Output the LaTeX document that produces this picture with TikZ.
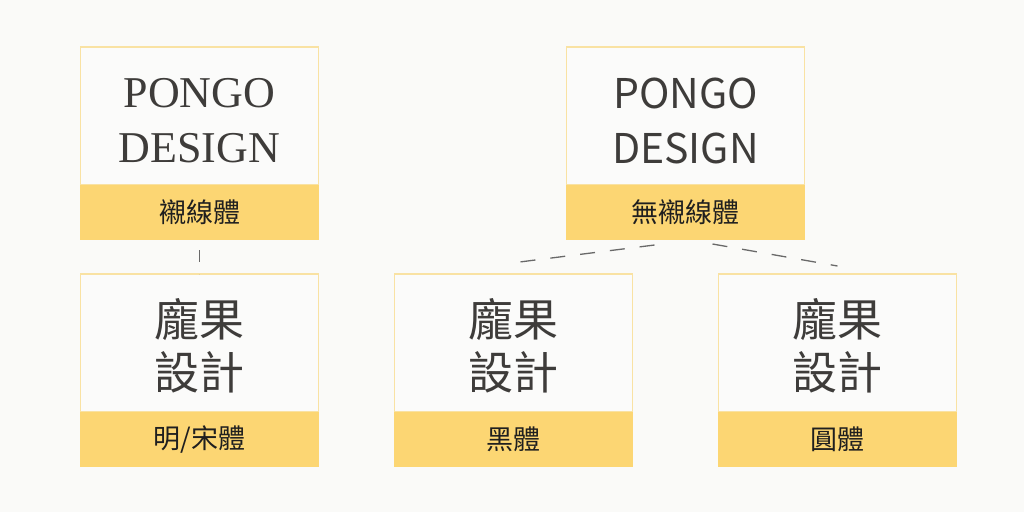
\documentclass[tikz,border=0pt]{standalone}
\usepackage{fontspec}
\setmainfont{Liberation Serif}
\newfontfamily\cjk{Noto Sans CJK TC}
\usetikzlibrary{positioning}
\definecolor{paper}{RGB}{250,250,248}
\definecolor{cardbg}{RGB}{251,251,250}
\definecolor{cardline}{RGB}{249,226,163}
\definecolor{band}{RGB}{252,214,115}
\definecolor{ink}{RGB}{62,60,58}
\definecolor{dashgray}{RGB}{105,105,105}
\tikzset{
    card/.style={rectangle,draw=cardline,fill=cardbg,line width=1.5pt,minimum width=238pt,minimum height=138pt,inner sep=0pt,outer sep=0pt},
    tag/.style={rectangle,fill=band,minimum width=239.5pt,minimum height=55pt,inner sep=0pt,outer sep=0pt,text=black!88,font=\cjk\fontsize{27}{27}\selectfont},
    sample/.style={text=ink,align=center,inner sep=0pt},
    serifname/.style={sample,font=\fontsize{44}{55}\selectfont},
    sansname/.style={sample,font=\cjk\fontsize{41}{55}\selectfont},
    hanname/.style={sample,font=\cjk\fontsize{45}{53}\selectfont},
    link/.style={draw=dashgray,line width=1.3pt,dash pattern=on 15pt off 15pt},
}

\begin{document}
\begin{tikzpicture}[x=1pt,y=-1pt]
\fill[paper] (0,0) rectangle (1024,512);
% top row
\node[card](serifcard) at (199.5,116) {};
\node[tag](seriftag) [below =0pt of serifcard] {襯線體};
\node[card](sanscard) [right =248pt of serifcard] {};
\node[tag](sanstag) [below =0pt of sanscard] {無襯線體};
% bottom row
\node[card](mingcard) [below =34pt of seriftag] {};
\node[tag](mingtag) [below =0pt of mingcard] {明/宋體};
\node[card](heicard) [right =76pt of mingcard] {};
\node[tag](heitag) [below =0pt of heicard] {黑體};
\node[card](roundcard) [right =86pt of heicard] {};
\node[tag](roundtag) [below =0pt of roundcard] {圓體};
% texts
\node[serifname](seriftext) at ([yshift=-4.5pt]serifcard.center) {PONGO\\DESIGN};
\node[sansname](sanstext) at ([yshift=-4.5pt]sanscard.center) {PONGO\\DESIGN};
\node[hanname](mingtext) at ([yshift=-2.5pt]mingcard.center) {龐果\\設計};
\node[hanname](heitext) at ([yshift=-2.5pt]heicard.center) {龐果\\設計};
\node[hanname](roundtext) at ([yshift=-2.5pt]roundcard.center) {龐果\\設計};
% dashed links
\draw[link,dash pattern=on 12pt off 12pt,dash phase=14pt] (seriftag.south) -- (mingcard.north);
\draw[link] ([xshift=-31pt,yshift=-5pt]sanstag.south) -- ([xshift=6pt,yshift=12pt]heicard.north);
\draw[link] ([xshift=27pt,yshift=-4pt]sanstag.south) -- ([yshift=8pt]roundcard.north);
\end{tikzpicture}
\end{document}
